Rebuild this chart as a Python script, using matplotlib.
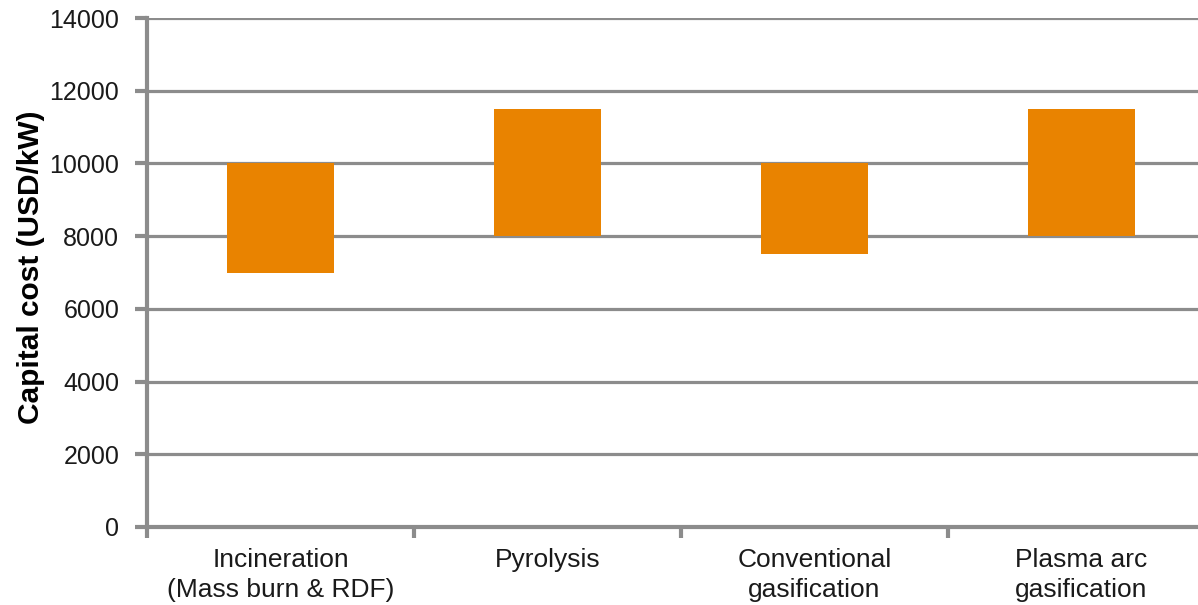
import matplotlib
matplotlib.use("Agg")
import matplotlib.pyplot as plt
from matplotlib.ticker import FixedLocator, NullFormatter, FixedFormatter

plt.rcParams['font.family'] = ['Liberation Sans', 'DejaVu Sans']

categories = ["Incineration\n(Mass burn & RDF)", "Pyrolysis",
              "Conventional\ngasification", "Plasma arc\ngasification"]
cost_low = [7000, 8000, 7500, 8000]
cost_high = [10000, 11500, 10000, 11500]
y_ticks = [0, 2000, 4000, 6000, 8000, 10000, 12000, 14000]

grey = "#8c8c8c"
orange = "#e98300"

fig = plt.figure(figsize=(11.98, 6.05), dpi=100)
ax = fig.add_axes([147 / 1198, 1 - 527 / 605, 1068 / 1198, 509 / 605])

centers = [i + 0.5 for i in range(len(categories))]
heights = [h - l for l, h in zip(cost_low, cost_high)]
ax.bar(centers, heights, bottom=cost_low, width=0.4, color=orange, zorder=3)

ax.set_xlim(0, len(categories))
ax.set_ylim(0, 14000)
ax.set_yticks(y_ticks)
ax.set_yticklabels([str(v) for v in y_ticks])
ax.yaxis.grid(True, color=grey, linewidth=2.3, zorder=1)
ax.set_axisbelow(True)

# category boundaries carry the tick marks, labels sit at category centres
ax.xaxis.set_major_locator(FixedLocator(list(range(len(categories) + 1))))
ax.xaxis.set_major_formatter(NullFormatter())
ax.xaxis.set_minor_locator(FixedLocator(centers))
ax.xaxis.set_minor_formatter(FixedFormatter(categories))
ax.tick_params(axis='x', which='minor', length=0, pad=15, labelsize=19, labelcolor="#1a1a1a")
ax.tick_params(axis='x', which='major', length=8, width=3, color=grey, direction='out')
ax.tick_params(axis='y', length=9, width=3, color=grey, direction='out', pad=11,
               labelsize=18, labelcolor="#1a1a1a")
for lbl in ax.xaxis.get_minorticklabels():
    lbl.set_linespacing(1.35)

for side in ("top", "right"):
    ax.spines[side].set_visible(False)
for side in ("left", "bottom"):
    ax.spines[side].set_color(grey)
    ax.spines[side].set_linewidth(3)

ax.set_ylabel("Capital cost (USD/kW)", fontsize=21.5, fontweight='bold', va='center')
ax.yaxis.set_label_coords(-0.1086, 0.511)

fig.savefig("out.png", dpi=100)
